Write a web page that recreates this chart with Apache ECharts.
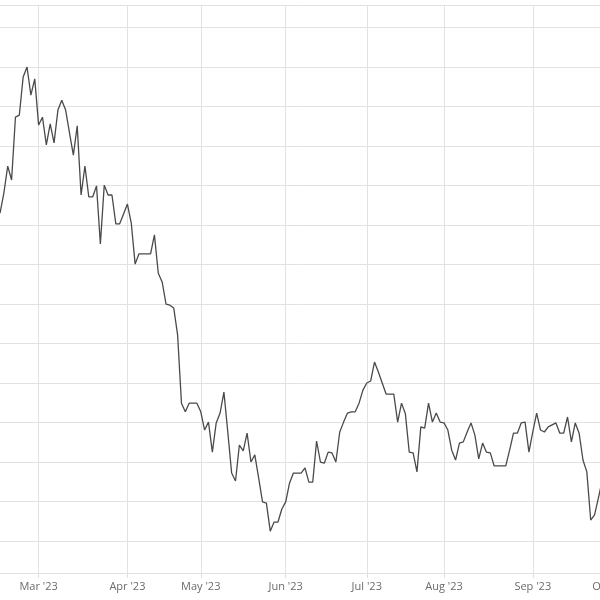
<!DOCTYPE html>
<html>
<head>
<meta charset="utf-8">
<script src="https://cdn.jsdelivr.net/npm/echarts@6/dist/echarts.min.js"></script>
<style>html,body{margin:0;padding:0;background:#fff}#c{width:600px;height:600px}</style>
</head>
<body>
<div id="c"></div>
<script>
// Trading-day calendar (category axis)
var startDate = '2023-02-14';
var endDate = '2023-10-02';
var holidays = ['2023-02-20','2023-04-07','2023-05-29','2023-06-19','2023-07-04','2023-09-04'];
var monthNames = ['Jan','Feb','Mar','Apr','May','Jun','Jul','Aug','Sep','Oct','Nov','Dec'];

// Price values, one per trading day starting 2023-02-14
var prices = [
143.0,148.1,154.9,151.4,167.3,167.8,177.5,180.0,172.9,177.0,
165.3,167.3,160.3,165.6,160.8,169.1,171.6,169.1,163.3,157.7,
165.1,147.6,154.9,147.1,147.1,149.9,135.2,150.1,147.6,147.6,
140.3,140.3,142.8,145.3,140.5,130.1,132.7,132.7,132.7,132.7,
137.5,127.8,125.6,120.0,119.7,119.0,112.2,94.9,92.7,94.9,
94.9,94.9,92.7,88.1,90.1,82.5,89.9,92.4,97.7,87.6,
77.2,75.2,84.3,82.8,87.3,80.0,81.8,75.9,69.9,69.6,
62.5,64.8,64.8,68.1,69.9,74.7,77.2,77.2,77.2,78.5,
74.9,74.9,85.3,80.0,79.7,82.5,82.3,80.0,87.6,90.1,
92.4,92.7,92.7,94.9,98.2,100.0,100.5,105.3,102.8,100.0,
97.2,97.2,97.2,90.1,94.9,92.2,82.5,82.3,77.5,88.9,
88.6,94.9,90.1,92.4,90.1,89.9,88.1,83.0,80.5,84.8,
85.1,87.6,89.9,86.8,80.8,84.8,82.5,82.3,79.0,79.0,
79.0,79.0,83.0,87.3,87.3,89.9,90.1,82.5,87.6,92.4,
88.1,87.6,88.9,89.4,89.9,87.3,87.3,91.4,85.1,89.9,
87.3,80.5,77.5,65.3,66.6,70.9,75.4
];

var yMin = 51.9;
var yMax = 195.7;

function pad(n){return (n<10?'0':'')+n;}
var dates = [];
(function(){
  var d = new Date(startDate + 'T00:00:00Z');
  var e = new Date(endDate + 'T00:00:00Z');
  while (d <= e) {
    var wd = d.getUTCDay();
    var s = d.getUTCFullYear() + '-' + pad(d.getUTCMonth()+1) + '-' + pad(d.getUTCDate());
    if (wd !== 0 && wd !== 6 && holidays.indexOf(s) < 0) dates.push(s);
    d.setUTCDate(d.getUTCDate()+1);
  }
})();

function isMonthStart(i){
  if (i === 0) return false;
  return dates[i].slice(5,7) !== dates[i-1].slice(5,7);
}
function fmt(s){
  var m = parseInt(s.slice(5,7),10)-1;
  return monthNames[m] + " '" + s.slice(2,4);
}

var chart = echarts.init(document.getElementById('c'), null, {renderer:'canvas'});
chart.setOption({
  animation: false,
  backgroundColor: '#ffffff',
  grid: {left: 0, right: -10, top: 5, bottom: 27, containLabel: false, outerBoundsMode: 'none'},
  xAxis: {
    type: 'category',
    data: dates,
    boundaryGap: false,
    axisLine: {show: true, lineStyle: {color: '#e0e0e0', width: 1}},
    axisTick: {show: true, length: 5, interval: function(i){return isMonthStart(i);}, lineStyle: {color: '#e0e0e0'}},
    splitLine: {show: true, interval: function(i){return isMonthStart(i);}, lineStyle: {color: '#e2e2e2', width: 1}},
    axisLabel: {
      interval: function(i){return isMonthStart(i);},
      formatter: function(v){return fmt(v);},
      color: '#6b6b6b', fontSize: 11, fontFamily: 'Open Sans', margin: 8
    }
  },
  yAxis: {
    type: 'value',
    min: yMin, max: yMax,
    splitNumber: 14,
    axisLabel: {show: false},
    axisLine: {show: false},
    axisTick: {show: false},
    splitLine: {show: true, lineStyle: {color: '#e2e2e2', width: 1}}
  },
  series: [{
    type: 'line',
    data: prices,
    showSymbol: false,
    symbol: 'none',
    lineStyle: {color: '#4a4a4a', width: 1.3},
    itemStyle: {color: '#4a4a4a'}
  }]
});
</script>
</body>
</html>
